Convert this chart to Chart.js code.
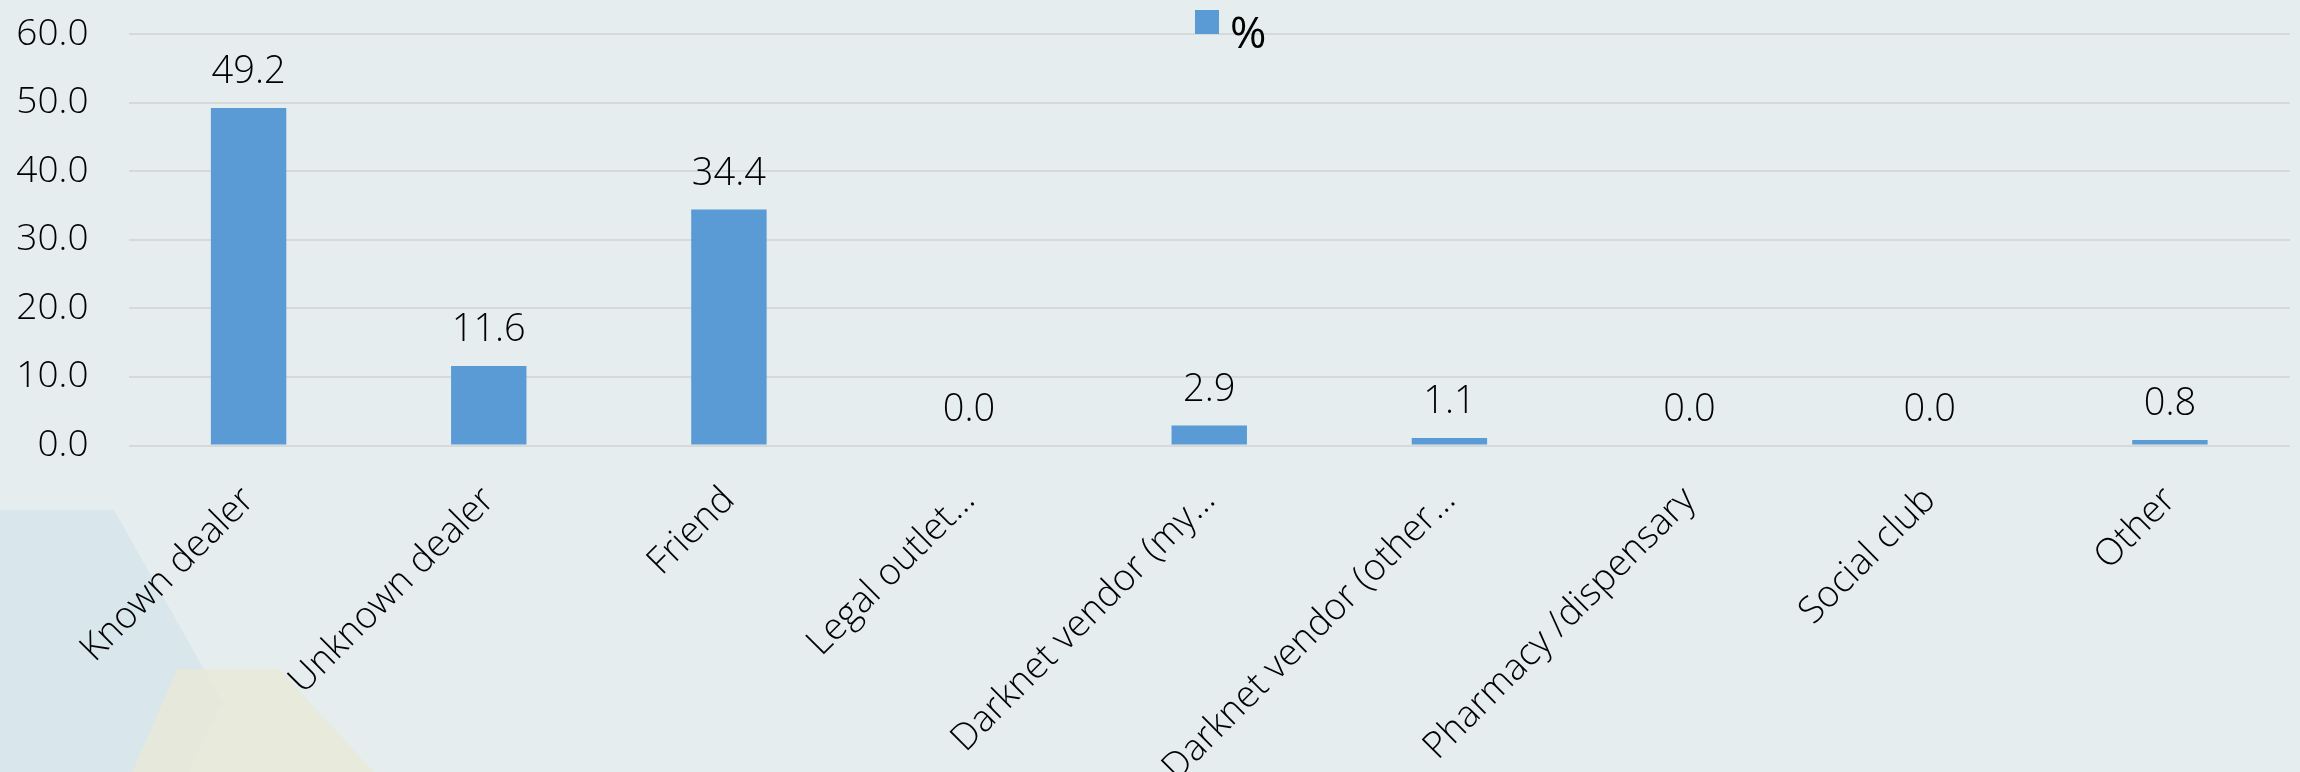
<!DOCTYPE html>
<html>
<head>
<meta charset="utf-8">
<script src="https://cdn.jsdelivr.net/npm/chart.js@4.4.1/dist/chart.umd.min.js"></script>
<style>
  html, body { margin: 0; padding: 0; background: #e5edef; }
  #wrap { position: relative; width: 2300px; height: 772px; overflow: hidden; }
  .deco { position: absolute; left: 0; top: 0; width: 2300px; height: 772px; }
  .deco-blue { background: #d9e6eb; clip-path: polygon(0 510px, 114px 510px, 223px 703px, 188px 772px, 0 772px); }
  .deco-yellow { background: rgba(232, 232, 214, 0.75); clip-path: polygon(177px 669px, 279px 669px, 374px 772px, 132px 772px); }
  #chart-bars { position: absolute; left: 0; top: 0; }
</style>
</head>
<body>
<div id="wrap">
  <div class="deco deco-blue"></div>
  <div class="deco deco-yellow"></div>
  <canvas id="chart-bars" width="2300" height="772"></canvas>
</div>
<script>
const categories = ['Known dealer', 'Unknown dealer', 'Friend', 'Legal outlet…', 'Darknet vendor (my…', 'Darknet vendor (other…', 'Pharmacy /dispensary', 'Social club', 'Other'];
const percentValues = [49.2, 11.6, 34.4, 0.0, 2.9, 1.1, 0.0, 0.0, 0.8];
const yTicks = [0, 10, 20, 30, 40, 50, 60];
const seriesName = '%';

const C_BLUE = '#5b9bd5';
const TICK = '#000000';
const GRID = '#d5d9da';
const FONT = "'Open Sans', sans-serif";

Chart.defaults.font.family = FONT;
Chart.defaults.color = TICK;

// value labels above each bar
const valueLabels = {
  id: 'valueLabels',
  afterDatasetsDraw(chart) {
    const ctx = chart.ctx;
    const meta = chart.getDatasetMeta(0);
    const data = chart.data.datasets[0].data;
    ctx.save();
    ctx.font = '300 38px ' + FONT;
    ctx.fillStyle = TICK;
    ctx.textAlign = 'center';
    ctx.textBaseline = 'alphabetic';
    meta.data.forEach((bar, i) => {
      ctx.fillText(data[i].toFixed(1), bar.x, bar.y - 25);
    });
    ctx.restore();
  }
};

// legend sitting on top of the chart area, like the original
const topLegend = {
  id: 'topLegend',
  afterDraw(chart) {
    const ctx = chart.ctx;
    const ds = chart.data.datasets[0];
    const box = 24;
    const left = 1195;
    const top = chart.chartArea.top - box;
    ctx.save();
    ctx.fillStyle = ds.backgroundColor;
    ctx.fillRect(left, top, box, box);
    ctx.font = '44px ' + FONT;
    ctx.fillStyle = TICK;
    ctx.textAlign = 'left';
    ctx.textBaseline = 'alphabetic';
    ctx.fillText(ds.label, left + box + 11, top + 38);
    ctx.restore();
  }
};

new Chart(document.getElementById('chart-bars'), {
  type: 'bar',
  data: {
    labels: categories,
    datasets: [
      { label: seriesName, data: percentValues, backgroundColor: C_BLUE, barPercentage: 0.314, categoryPercentage: 1.0 }
    ]
  },
  options: {
    responsive: false,
    animation: false,
    layout: { padding: { top: 34, right: 10, left: 0, bottom: 0 } },
    plugins: {
      legend: { display: false },
      tooltip: { enabled: false }
    },
    scales: {
      x: {
        grid: { display: false, drawTicks: false },
        border: { display: false },
        ticks: { color: TICK, autoSkip: false, minRotation: 45, maxRotation: 45, padding: 33, font: { size: 37, weight: '300' } },
        afterFit: (s) => { s.height = 326.5; }
      },
      y: {
        min: yTicks[0],
        max: yTicks[yTicks.length - 1],
        grid: { color: GRID, lineWidth: 2, drawTicks: false },
        border: { display: false },
        ticks: { color: TICK, stepSize: yTicks[1] - yTicks[0], padding: 40, font: { size: 37, weight: '300' }, callback: (v) => v.toFixed(1) },
        // tick padding would otherwise push the plot top down
        afterFit: (s) => { s.width = 128.5; s.paddingTop = 0; s.paddingBottom = 0; }
      }
    }
  },
  plugins: [valueLabels, topLegend]
});
</script>
</body>
</html>
